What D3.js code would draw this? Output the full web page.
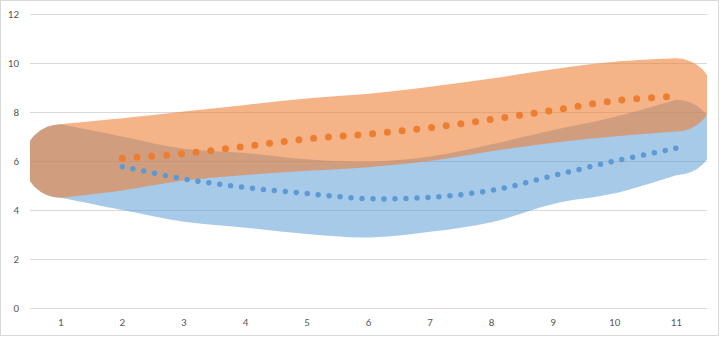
<!DOCTYPE html>
<html>
<head>
<meta charset="utf-8">
<script src="https://cdn.jsdelivr.net/npm/d3@7"></script>
<style>
  html, body { margin: 0; padding: 0; background: #fff; }
  svg { display: block; }
  text { font-family: Calibri, Carlito, Lato, "Liberation Sans", sans-serif; }
</style>
</head>
<body>
<svg id="chart" width="720" height="337"></svg>
<script>
const categories = [1, 2, 3, 4, 5, 6, 7, 8, 9, 10, 11];
const yTicks = [0, 2, 4, 6, 8, 10, 12];

const orangeTop    = [7.5, 7.74, 8.02, 8.29, 8.55, 8.74, 9.03, 9.37, 9.75, 10.05, 10.19];
const orangeBottom = [4.5, 4.8, 5.2, 5.43, 5.6, 5.75, 6.0, 6.4, 6.75, 7.0, 7.2];
const blueTop      = [7.5, 7.0, 6.5, 6.33, 6.07, 5.97, 6.18, 6.68, 7.27, 7.8, 8.5];
const blueBottom   = [4.5, 4.0, 3.52, 3.28, 3.02, 2.88, 3.11, 3.5, 4.25, 4.68, 5.42];
const orangeLine   = [null, 6.11, 6.3, 6.6, 6.9, 7.1, 7.36, 7.7, 8.07, 8.46, 8.64];
const blueLine     = [null, 5.77, 5.27, 4.92, 4.67, 4.46, 4.52, 4.8, 5.4, 6.0, 6.52];

const svg = d3.select("#chart");
const W = 720, H = 337;
const plot = { left: 30, right: 707, top: 14, bottom: 308 };

svg.append("rect").attr("x", 0.5).attr("y", 0.5).attr("width", 718).attr("height", 335)
  .attr("fill", "#fff").attr("stroke", "#D9D9D9").attr("stroke-width", 1);

const x = d3.scaleBand().domain(categories).range([plot.left, plot.right]).paddingInner(0).paddingOuter(0);
const cx = c => x(c) + x.bandwidth() / 2;
const y = d3.scaleLinear().domain([0, 12]).range([plot.bottom, plot.top]);

// gridlines
const yAxis = d3.axisLeft(y).tickValues(yTicks).tickSize(-(plot.right - plot.left)).tickPadding(11);
const gy = svg.append("g").attr("transform", `translate(${plot.left},0)`).call(yAxis);
gy.select(".domain").remove();
gy.selectAll(".tick line").attr("stroke", "#D9D9D9").attr("stroke-width", 1);
gy.selectAll(".tick text").attr("fill", "#595959").style("font-size", "11px");

const xAxis = d3.axisBottom(x).tickSize(0).tickPadding(10);
const gx = svg.append("g").attr("transform", `translate(0,${plot.bottom})`).call(xAxis);
gx.select(".domain").remove();
gx.selectAll(".tick text").attr("fill", "#595959").style("font-size", "11px");

svg.append("clipPath").attr("id", "plotclip").append("rect")
  .attr("x", plot.left).attr("y", 0).attr("width", plot.right - plot.left).attr("height", H);

const line = d3.line().curve(d3.curveCatmullRom.alpha(0.5));

function bandPath(top, bot) {
  const tp = categories.map((c, i) => [cx(c), y(top[i])]);
  const bp = categories.map((c, i) => [cx(c), y(bot[i])]).reverse();
  const n = tp.length - 1;
  const rR = (bp[0][1] - tp[n][1]) / 2;
  const rL = (bp[n][1] - tp[0][1]) / 2;
  let d = line(tp);
  d += `A${rR},${rR} 0 0 1 ${bp[0][0]},${bp[0][1]}`;
  d += line(bp).replace(/^M/, "L");
  d += `A${rL},${rL} 0 0 1 ${tp[0][0]},${tp[0][1]}Z`;
  return d;
}

const areas = svg.append("g").attr("clip-path", "url(#plotclip)");
areas.append("path").attr("d", bandPath(blueTop, blueBottom))
  .attr("fill", "#5B9BD5").attr("fill-opacity", 0.53);
areas.append("path").attr("d", bandPath(orangeTop, orangeBottom))
  .attr("fill", "#ED7D31").attr("fill-opacity", 0.58);

const dotted = d3.line()
  .defined(d => d[1] != null)
  .x(d => cx(d[0])).y(d => y(d[1]))
  .curve(d3.curveCatmullRom.alpha(0.5));

svg.append("path")
  .attr("d", dotted(categories.map((c, i) => [c, blueLine[i]])))
  .attr("fill", "none").attr("stroke", "#5B9BD5").attr("stroke-width", 5.5)
  .attr("stroke-linecap", "round").attr("stroke-dasharray", "0 11");

svg.append("path")
  .attr("d", dotted(categories.map((c, i) => [c, orangeLine[i]])))
  .attr("fill", "none").attr("stroke", "#ED7D31").attr("stroke-width", 7)
  .attr("stroke-linecap", "round").attr("stroke-dasharray", "0 14.8");
</script>
</body>
</html>
